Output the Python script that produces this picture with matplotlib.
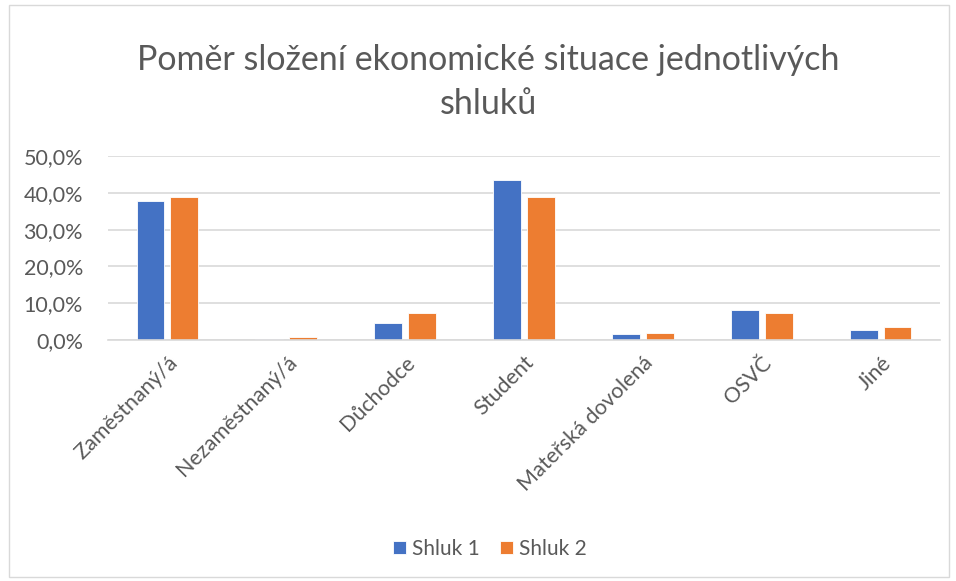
import matplotlib.pyplot as plt
import numpy as np
from matplotlib.patches import Rectangle
from matplotlib.ticker import FuncFormatter

categories = ['Zaměstnaný/á', 'Nezaměstnaný/á', 'Důchodce', 'Student',
              'Mateřská dovolená', 'OSVČ', 'Jiné']
shluk1 = [37.8, 0.2, 4.5, 43.6, 1.6, 8.2, 2.7]
shluk2 = [38.9, 0.8, 7.3, 38.9, 2.0, 7.3, 3.4]
series_names = ['Shluk 1', 'Shluk 2']
title = 'Poměr složení ekonomické situace jednotlivých\nshluků'

plt.rcParams['font.family'] = ['Lato', 'DejaVu Sans']
text_col = '#595959'

fig = plt.figure(figsize=(9.56, 5.81), dpi=100)
ax = fig.add_axes([108 / 956, 1 - 340 / 581, 832 / 956, 184 / 581])

x = np.arange(len(categories))
w = 0.235
ax.bar(x - w / 2 - 0.025, shluk1, w, color='#4472C4', edgecolor='white', linewidth=0.6, label=series_names[0])
ax.bar(x + w / 2 + 0.025, shluk2, w, color='#ED7D31', edgecolor='white', linewidth=0.6, label=series_names[1])

ax.set_xlim(-0.5, len(categories) - 0.5)
ax.set_ylim(0, 50)
ax.set_yticks(np.arange(0, 51, 10))
ax.yaxis.set_major_formatter(FuncFormatter(lambda v, p: f'{v:.1f}%'.replace('.', ',')))
ax.grid(axis='y', color='#D9D9D9', linewidth=1.2)
ax.set_axisbelow(True)
for s in ['top', 'right', 'left']:
    ax.spines[s].set_visible(False)
ax.spines['bottom'].set_color('#D9D9D9')
ax.spines['bottom'].set_linewidth(1.2)
ax.tick_params(axis='both', length=0, labelsize=15.5, colors=text_col)
ax.tick_params(axis='y', pad=18)
ax.tick_params(axis='x', pad=9)
ax.set_xticks(x)
ax.set_xticklabels(categories, rotation=45, ha='right', rotation_mode='anchor')

fig.text(0.511, 1 - 82 / 581, title, ha='center', va='center', fontsize=24.5,
         color=text_col, linespacing=1.45)

leg = fig.legend(loc='center', bbox_to_anchor=(490 / 956, 1 - 549 / 581), ncol=2,
                 frameon=False, fontsize=15, handlelength=0.6, handleheight=0.6,
                 handletextpad=0.3, columnspacing=1.0)
for t in leg.get_texts():
    t.set_color(text_col)

fig.patches.append(Rectangle((9 / 956, 4 / 581), 940 / 956, 572 / 581, transform=fig.transFigure,
                             fill=False, edgecolor='#D9D9D9', linewidth=1))

fig.savefig('out.png', dpi=100)
